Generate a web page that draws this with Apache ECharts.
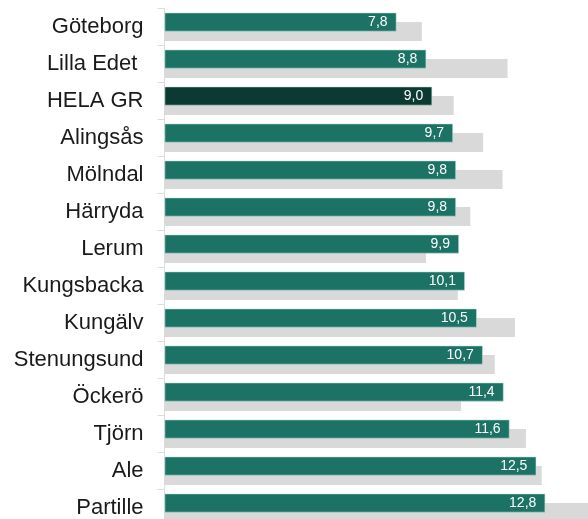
<!DOCTYPE html>
<html>
<head>
<meta charset="utf-8">
<script src="https://cdn.jsdelivr.net/npm/echarts@6/dist/echarts.min.js"></script>
<style>
  html, body { margin: 0; padding: 0; background: #fff; overflow: hidden; }
  /* the last row runs past the bottom edge in the original, so the canvas is taller than the window */
  #chart { width: 588px; height: 527px; }
</style>
</head>
<body>
<div id="chart"></div>
<script>
const municipalities = ['Göteborg', 'Lilla Edet ', 'HELA GR', 'Alingsås', 'Mölndal', 'Härryda', 'Lerum',
  'Kungsbacka', 'Kungälv', 'Stenungsund', 'Öckerö', 'Tjörn', 'Ale', 'Partille'];
const currentValues = [7.8, 8.8, 9.0, 9.7, 9.8, 9.8, 9.9, 10.1, 10.5, 10.7, 11.4, 11.6, 12.5, 12.8];
const previousValues = [8.65, 11.53, 9.72, 10.71, 11.36, 10.28, 8.79, 9.86, 11.78, 11.1, 9.97, 12.15, 12.68, 14.6];
const highlight = 'HELA GR';

const chart = echarts.init(document.getElementById('chart'), null, { renderer: 'canvas' });

chart.setOption({
  animation: false,
  grid: { left: 164.5, right: 0, top: 8.3, height: 518, containLabel: false },
  xAxis: {
    type: 'value', min: 0, max: 14.235, show: false
  },
  yAxis: {
    type: 'category',
    data: municipalities,
    inverse: true,
    axisLine: { lineStyle: { color: '#dcdcdc', width: 1 } },
    axisTick: { show: true, length: 7, lineStyle: { color: '#dcdcdc' } },
    axisLabel: {
      fontFamily: 'Liberation Sans',
      fontSize: 22,
      color: '#1a1a1a',
      margin: 21
    }
  },
  series: [
    {
      type: 'bar',
      name: 'current',
      z: 3,
      barWidth: 19,
      barGap: '-50%',
      data: currentValues.map((v, i) => ({
        value: v,
        itemStyle: { color: municipalities[i] === highlight ? '#0c3a33' : '#1b7265' }
      })),
      itemStyle: { borderColor: 'rgba(190,225,215,0.7)', borderWidth: 0.8 },
      label: {
        show: true,
        position: 'insideRight',
        distance: 9,
        color: '#ffffff',
        fontFamily: 'Liberation Sans',
        fontSize: 14,
        formatter: p => p.value.toFixed(1).replace('.', ',')
      }
    },
    {
      type: 'bar',
      name: 'previous',
      z: 2,
      barWidth: 19,
      clip: true,
      data: previousValues,
      itemStyle: { color: '#d9d9d9' }
    }
  ]
});
</script>
</body>
</html>
